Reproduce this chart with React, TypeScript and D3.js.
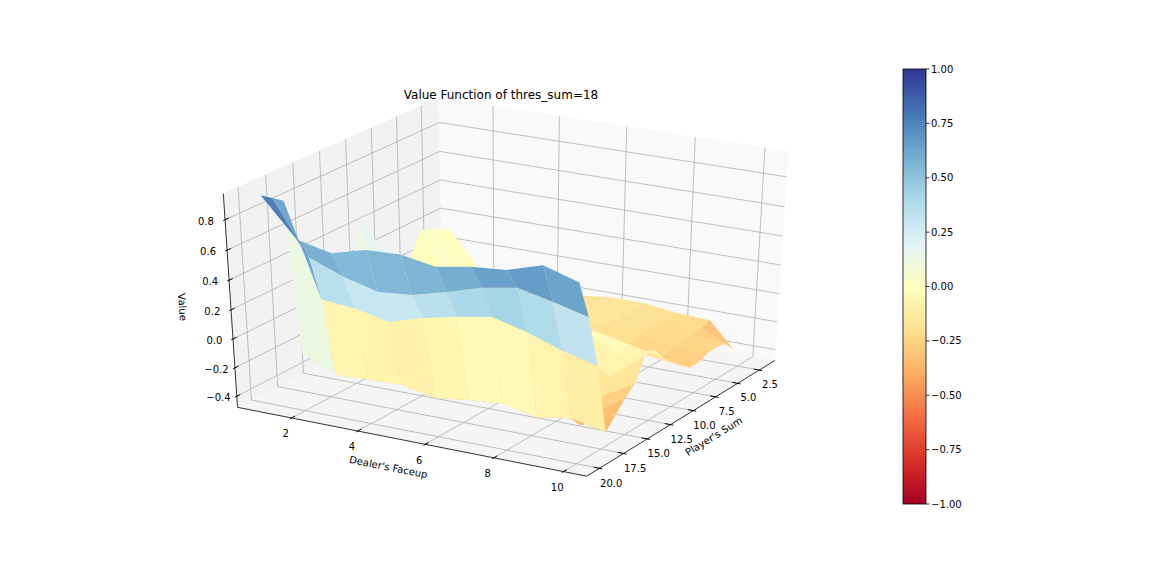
import React from "react";
import * as d3 from "d3";

// ---------- data ----------
const dealerCards = [1, 2, 3, 4, 5, 6, 7, 8, 9, 10];
const playerSums = [2, 3, 4, 5, 6, 7, 8, 9, 10, 11, 12, 13, 14, 15, 16, 17, 18, 19, 20];
// one row per player sum (2..20), one value per dealer card (1..10)
const valueRows: number[][] = [
  [0.12, -0.15, -0.17, -0.18, -0.2, -0.17, -0.17, -0.2, -0.21, -0.45],
  [0.15, -0.15, -0.17, -0.18, -0.19, -0.16, -0.17, -0.2, -0.23, -0.34],
  [0.19, -0.15, -0.17, -0.18, -0.19, -0.16, -0.17, -0.2, -0.24, -0.26],
  [0.21, -0.15, -0.17, -0.18, -0.18, -0.16, -0.17, -0.2, -0.24, -0.25],
  [0.07, -0.15, -0.17, -0.18, -0.18, -0.17, -0.18, -0.2, -0.25, -0.25],
  [0.02, -0.16, -0.17, -0.18, -0.18, -0.18, -0.2, -0.22, -0.27, -0.28],
  [0.05, -0.15, -0.16, -0.17, -0.17, -0.16, -0.18, -0.2, -0.25, -0.28],
  [0.12, -0.12, -0.14, -0.15, -0.15, -0.14, -0.15, -0.15, -0.2, -0.23],
  [0.38, -0.08, -0.12, -0.13, -0.12, -0.1, -0.1, -0.08, -0.12, -0.17],
  [0.45, -0.05, -0.1, -0.12, -0.1, -0.08, -0.05, 0.0, -0.05, -0.1],
  [0.2, -0.1, -0.12, -0.14, -0.12, -0.1, -0.05, 0.02, -0.08, -0.01],
  [0.1, -0.15, -0.16, -0.18, -0.17, -0.15, -0.1, -0.05, -0.2, 0.0],
  [0.0, -0.2, -0.2, -0.22, -0.22, -0.2, -0.18, -0.12, -0.3, -0.16],
  [-0.08, -0.25, -0.25, -0.26, -0.27, -0.25, -0.25, -0.22, -0.38, -0.22],
  [-0.15, -0.3, -0.3, -0.3, -0.32, -0.3, -0.3, -0.3, -0.42, -0.3],
  [-0.23, -0.34, -0.33, -0.32, -0.37, -0.34, -0.32, -0.37, -0.33, -0.38],
  [0.84, 0.22, 0.2, 0.15, 0.22, 0.27, 0.31, 0.25, 0.17, 0.11],
  [0.89, 0.54, 0.45, 0.39, 0.41, 0.47, 0.54, 0.58, 0.53, 0.47],
  [0.94, 0.69, 0.64, 0.7, 0.71, 0.67, 0.71, 0.73, 0.8, 0.73],
];
const dealerTicks = [2, 4, 6, 8, 10];
const playerTicks = [2.5, 5, 7.5, 10, 12.5, 15, 17.5, 20];
const valueTicks = [-0.4, -0.2, 0, 0.2, 0.4, 0.6, 0.8];
const colorbarTicks = [-1, -0.75, -0.5, -0.25, 0, 0.25, 0.5, 0.75, 1];
const colorDomain = [-1, 1];
const titleText = "Value Function of thres_sum=18";
const xLabel = "Dealer's Faceup";
const yLabel = "Player's Sum";
const zLabel = "Value";

// ---------- layout ----------
const WIDTH = 1152;
const HEIGHT = 576;
const FONT = "'DejaVu Sans', Verdana, sans-serif";
const ELEV = 30;
const AZIM = -60;
const DIST = 10;
const CENTER_X = 510.3;
const CENTER_Y = 280.5;
const SCALE_X = 403;
const SCALE_Y = 244;
const CB_X = 903;
const CB_W = 23;
const CB_TOP = 69;
const CB_BOTTOM = 504;

function paneDomain(lo: number, hi: number, margin: number): [number, number] {
  const r = hi - lo;
  const v0 = lo - margin * r;
  const v1 = hi + margin * r;
  const pad = (v1 - v0) / 48;
  return [v0 - pad, v1 + pad];
}

const fmt1 = d3.format(".1f");
const fmt2 = d3.format(".2f");

export default function App() {
  const allZ = valueRows.flat();
  const xDom = paneDomain(d3.min(dealerCards)!, d3.max(dealerCards)!, 0.05);
  const yDom = paneDomain(d3.min(playerSums)!, d3.max(playerSums)!, 0.05);
  const zDom = paneDomain(d3.min(allZ)!, d3.max(allZ)!, 0);
  const wx = d3.scaleLinear().domain(xDom).range([0, 1]);
  const wy = d3.scaleLinear().domain(yDom).range([1, 0]);
  const wz = d3.scaleLinear().domain(zDom).range([0, 1]);

  const e = (ELEV * Math.PI) / 180;
  const a = (AZIM * Math.PI) / 180;
  const n = [Math.cos(e) * Math.cos(a), Math.cos(e) * Math.sin(a), Math.sin(e)];
  const ul = Math.hypot(n[0], n[1]);
  const u = [-n[1] / ul, n[0] / ul, 0];
  const v = [
    n[1] * u[2] - n[2] * u[1],
    n[2] * u[0] - n[0] * u[2],
    n[0] * u[1] - n[1] * u[0],
  ];

  const proj = (p: number[]) => {
    const d = [p[0] - 0.5, p[1] - 0.5, p[2] - 0.5];
    const dot = (q: number[]) => q[0] * d[0] + q[1] * d[1] + q[2] * d[2];
    const depth = dot(n);
    const den = 1 - depth / DIST;
    return { x: CENTER_X + (SCALE_X * dot(u)) / den, y: CENTER_Y - (SCALE_Y * dot(v)) / den, depth };
  };
  const pathOf = (pts: number[][], close = false) => {
    const s = pts
      .map((p, i) => {
        const q = proj(p);
        return `${i === 0 ? "M" : "L"}${q.x.toFixed(2)},${q.y.toFixed(2)}`;
      })
      .join("");
    return close ? s + "Z" : s;
  };

  const cmap = d3
    .scaleLinear<string>()
    .domain(d3.range(11).map((i) => colorDomain[0] + (i * (colorDomain[1] - colorDomain[0])) / 10))
    .range(d3.schemeRdYlBu[11] as string[])
    .interpolate(d3.interpolateRgb)
    .clamp(true);

  // panes
  const panes = [
    { pts: [[0, 0, 0], [0, 1, 0], [0, 1, 1], [0, 0, 1]], fill: "#f2f2f2" },
    { pts: [[0, 1, 0], [1, 1, 0], [1, 1, 1], [0, 1, 1]], fill: "#f9f9f9" },
    { pts: [[0, 0, 0], [1, 0, 0], [1, 1, 0], [0, 1, 0]], fill: "#f5f5f5" },
  ];

  // grid lines
  const grid: string[] = [];
  dealerTicks.forEach((t) => grid.push(pathOf([[wx(t), 0, 0], [wx(t), 1, 0], [wx(t), 1, 1]])));
  playerTicks.forEach((t) => grid.push(pathOf([[1, wy(t), 0], [0, wy(t), 0], [0, wy(t), 1]])));
  valueTicks.forEach((t) => grid.push(pathOf([[0, 0, wz(t)], [0, 1, wz(t)], [1, 1, wz(t)]])));

  const TD = 0.08;
  const ticks: string[] = [];
  dealerTicks.forEach((t) => ticks.push(pathOf([[wx(t), -0.1 * TD, 0], [wx(t), 0.2 * TD, 0]])));
  playerTicks.forEach((t) => ticks.push(pathOf([[1 + 0.1 * TD, wy(t), 0], [1 - 0.2 * TD, wy(t), 0]])));
  valueTicks.forEach((t) => ticks.push(pathOf([[0, -0.1 * TD, wz(t)], [0, 0.2 * TD, wz(t)]])));

  const tickLabels: { x: number; y: number; text: string }[] = [];
  dealerTicks.forEach((t) => {
    const q = proj([wx(t), -0.03, -0.06]);
    tickLabels.push({ x: q.x, y: q.y, text: String(t) });
  });
  playerTicks.forEach((t) => {
    const q = proj([1.033, wy(t), -0.062]);
    tickLabels.push({ x: q.x, y: q.y, text: fmt1(t) });
  });
  valueTicks.forEach((t) => {
    const q = proj([-0.033, -0.033, wz(t)]);
    tickLabels.push({ x: q.x, y: q.y, text: fmt1(t) });
  });

  const angleOf = (p0: number[], p1: number[]) => {
    const a0 = proj(p0);
    const a1 = proj(p1);
    let ang = (Math.atan2(a1.y - a0.y, a1.x - a0.x) * 180) / Math.PI;
    ang = ((ang % 180) + 180) % 180;
    if (ang > 90) ang -= 180;
    return ang;
  };
  const xl = proj([0.5, -0.095, -0.071]);
  const yl = proj([1.085, 0.5, -0.071]);
  const zl = proj([-0.0845, -0.0845, 0.5]);
  const xAng = angleOf([0, 0, 0], [1, 0, 0]);
  const yAng = angleOf([1, 0, 0], [1, 1, 0]);
  const zAng = angleOf([0, 0, 0], [0, 0, 1]);

  // surface quads
  const quads: { d: string; fill: string; depth: number }[] = [];
  for (let j = 0; j < playerSums.length - 1; j++) {
    for (let i = 0; i < dealerCards.length - 1; i++) {
      const corners = [
        [i, j],
        [i + 1, j],
        [i + 1, j + 1],
        [i, j + 1],
      ];
      const pts = corners.map(([ci, cj]) => [wx(dealerCards[ci]), wy(playerSums[cj]), wz(valueRows[cj][ci])]);
      const meanZ = d3.mean(corners, ([ci, cj]) => valueRows[cj][ci])!;
      const depth = d3.mean(pts, (p) => proj(p).depth)!;
      quads.push({ d: pathOf(pts, true), fill: cmap(meanZ), depth });
    }
  }
  quads.sort((p, q) => p.depth - q.depth);

  const cbScale = d3.scaleLinear().domain(colorDomain).range([CB_BOTTOM, CB_TOP]);

  return (
    <svg
      width={WIDTH}
      height={HEIGHT}
      viewBox={`0 0 ${WIDTH} ${HEIGHT}`}
      style={{ position: "absolute", left: 0, top: 0, background: "#fff", display: "block" }}
      fontFamily={FONT}
    >
      <rect x={0} y={0} width={WIDTH} height={HEIGHT} fill="#fff" />
      {panes.map((p, i) => (
        <path key={"pane" + i} d={pathOf(p.pts, true)} fill={p.fill} stroke={p.fill} strokeWidth={0.5} />
      ))}
      {grid.map((d, i) => (
        <path key={"g" + i} d={d} fill="none" stroke="#b0b0b0" strokeWidth={0.8} />
      ))}
      <path d={pathOf([[0, 0, 0], [1, 0, 0]])} stroke="#000" strokeWidth={0.8} fill="none" />
      <path d={pathOf([[1, 0, 0], [1, 1, 0]])} stroke="#000" strokeWidth={0.8} fill="none" />
      <path d={pathOf([[0, 0, 0], [0, 0, 1]])} stroke="#000" strokeWidth={0.8} fill="none" />
      {ticks.map((d, i) => (
        <path key={"t" + i} d={d} stroke="#000" strokeWidth={1} fill="none" />
      ))}
      {tickLabels.map((t, i) => (
        <text key={"tl" + i} x={t.x} y={t.y} fontSize={10} textAnchor="middle" dominantBaseline="central" fill="#000">
          {t.text}
        </text>
      ))}
      <text x={xl.x} y={xl.y} fontSize={10} textAnchor="middle" dominantBaseline="central" transform={`rotate(${xAng} ${xl.x} ${xl.y})`}>
        {xLabel}
      </text>
      <text x={yl.x} y={yl.y} fontSize={10} textAnchor="middle" dominantBaseline="central" transform={`rotate(${yAng} ${yl.x} ${yl.y})`}>
        {yLabel}
      </text>
      <text x={zl.x} y={zl.y} fontSize={10} textAnchor="middle" dominantBaseline="central" transform={`rotate(${zAng} ${zl.x} ${zl.y})`}>
        {zLabel}
      </text>
      {quads.map((q, i) => (
        <path key={"q" + i} d={q.d} fill={q.fill} />
      ))}
      <text x={501} y={99} fontSize={12} textAnchor="middle" fill="#000">
        {titleText}
      </text>
      <defs>
        <linearGradient id="cbgrad" x1="0" y1="1" x2="0" y2="0">
          {(d3.schemeRdYlBu[11] as string[]).map((c, i) => (
            <stop key={i} offset={i / 10} stopColor={c} />
          ))}
        </linearGradient>
      </defs>
      <rect x={CB_X} y={CB_TOP} width={CB_W} height={CB_BOTTOM - CB_TOP} fill="url(#cbgrad)" stroke="#000" strokeWidth={0.8} />
      {colorbarTicks.map((t) => (
        <g key={"cb" + t}>
          <line x1={CB_X + CB_W} x2={CB_X + CB_W + 3.5} y1={cbScale(t)} y2={cbScale(t)} stroke="#000" strokeWidth={0.8} />
          <text x={CB_X + CB_W + 5} y={cbScale(t)} fontSize={10} dominantBaseline="central" fill="#000">
            {fmt2(t)}
          </text>
        </g>
      ))}
    </svg>
  );
}
